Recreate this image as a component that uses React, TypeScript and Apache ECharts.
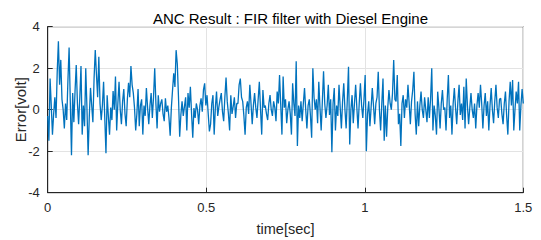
import React, { useEffect, useRef } from "react";
import * as echarts from "echarts";

const title = "ANC Result : FIR filter with Diesel Engine";
const xName = "time[sec]";
const yName = "Error[volt]";
const xTicks = [0, 0.5, 1, 1.5];
const yTicks = [-4, -2, 0, 2, 4];
const sampleStep = 0.00375; // seconds between samples

const seg1 = [
  -0.3, -1.5, 1.5, 0.2, -1.2, -0.2, 0.6, -0.4, 1.8, 3.3,
  1.2, 2.4, 0.5, 0.0, -0.9, 0.3, -0.5, 1.4, 3.0, 0.4,
  -2.2, 0.8, -0.6, 0.9, 2.15, 0.3, -0.7, 0.6, 2.1, -1.2,
  0.2, -0.8, 2.0, 0.1, -2.2, -0.3, 1.05, 0.2, -0.6, 1.5,
  2.88, 1.7, 0.6, 2.55, 0.3, -0.5, 0.2, 1.35, -0.4, -2.1,
  0.7, -0.3, -1.2, 0.1, -0.5, 0.9, 0.0, 1.6, -1.0, 0.3,
  1.35, 0.0, -0.7, 0.4, 1.0, -0.2, -0.8, 0.5, 1.3, 0.6,
  2.1, 1.2, 0.8, 0.1, -1.0, -0.2, 1.0, -0.8, 0.2, 0.5,
];
const seg2 = [
  -1.2, 0.2, -0.3, 1.04, 0.1, -0.7, 0.2, 0.8, -0.4, 0.6,
  2.0, 0.3, -0.9, 0.7, -0.1, 0.3, 0.5, -0.2, -0.55, 0.55,
  -0.1, 0.2, -0.4, -1.25, 0.1, 0.95, 1.75, 1.1, 2.87, 2.2,
  0.6, -1.3, -0.25, 0.4, -0.3, 0.15, 0.6, -1.0, 0.8, 0.1,
  1.1, -0.2, -1.35, 0.08, -0.4, 0.3, 0.0, -0.7, 0.2, 0.55,
  -0.1, 0.95, 1.27, 0.2, 0.7, -0.2, -1.05, -0.7, 0.3, 0.7,
  -1.2, 0.1, 0.87, -0.3, 0.15, 0.5, 0.8, -0.1, -0.55, 0.6,
  1.55, 0.4, -0.2, -1.0, 0.7, -0.2, 0.15, 0.6, -0.4, 0.3,
];
const seg3 = [
  0.3, 1.2, 1.5, 0.6, 0.4, -0.3, -1.2, 0.1, 0.4, -0.2,
  1.2, 0.3, -0.7, 0.2, 0.8, 0.1, -0.4, 0.5, 1.35, 0.0,
  -1.2, 0.95, 0.1, 0.2, -0.2, -0.5, 0.3, 0.7, 0.0, -0.3,
  0.4, 0.1, -0.55, 0.87, 0.3, 1.67, 0.2, -1.2, 1.6, 0.1,
  0.5, -0.65, 0.0, 0.4, -0.2, -1.2, 1.27, 0.3, -0.3, 2.34,
  -1.75, 0.2, -0.4, 0.4, -0.55, 0.3, 1.04, 0.0, -0.9, 0.2,
  0.5, -0.3, -1.35, 2.0, 0.6, 0.0, 0.5, -0.65, 1.35, 0.1,
  -1.0, 0.4, 1.85, 0.3, -0.4, 0.2, 1.2, -0.25, 0.5, -2.05,
];
const seg4 = [
  0.3, 1.04, -1.0, 0.2, -0.3, 1.2, 0.1, -0.9, 0.4, 1.27,
  0.0, -0.9, 0.5, 2.07, -1.68, 0.0, 0.7, -0.65, 0.3, 1.2,
  0.1, -0.9, 0.3, 1.27, 0.2, -0.4, 0.5, 1.67, -2.0, -0.2,
  0.4, -0.8, 0.1, 1.04, 0.2, -0.7, 0.3, 0.6, 1.83, 0.0,
  -1.0, 0.3, 1.5, -1.5, 0.2, -1.3, 0.1, 0.95, 0.3, 0.0,
  0.8, 2.4, 0.5, 0.4, 1.67, -0.7, -0.2, -1.75, 0.3, 0.7,
  -0.4, 0.5, 0.1, 1.2, 0.3, -0.7, 0.4, 0.95, 1.83, -0.2,
  -1.2, 0.4, -0.8, 0.2, 0.87, 0.0, -0.4, 0.6, 0.0, -0.6,
];
const seg5 = [
  0.6, -0.4, 0.5, 2.0, -1.0, 0.2, -0.3, -1.2, 0.87, 0.1,
  -0.9, 0.3, 0.95, 0.0, 0.1, -1.0, 0.5, 1.67, -0.4, 0.2,
  -1.2, 0.3, 1.04, 0.1, -0.7, 0.4, 1.2, -0.25, 0.3, -0.5,
  1.1, -0.9, 1.5, 0.2, -0.7, 0.1, 0.8, 0.0, -0.4, 0.3,
  -0.9, 0.2, 0.8, 0.1, 1.2, 0.3, -0.9, 0.2, 0.8, -0.3,
  0.4, -1.0, 0.2, 1.04, 0.0, -0.65, 0.4, 1.2, 0.1, -0.4,
  0.5, 0.55, -0.2, -0.7, 0.3, 0.87, -0.3, -1.2, 0.4, 1.35,
  0.2, 1.43, -1.0, 0.0, 0.87, 0.3, 1.35, -1.0, 0.2, 1.0,
  0.3,
];

const errorValues = [...seg1, ...seg2, ...seg3, ...seg4, ...seg5];

export default function App() {
  const ref = useRef<HTMLDivElement>(null);
  useEffect(() => {
    if (!ref.current) return;
    const chart = echarts.init(ref.current, null, { renderer: "svg" });
    const data = errorValues.map((v, i) => [i * sampleStep, v]);
    const font = "Liberation Sans, Arial, Helvetica, sans-serif";
    const axisColor = "#262626";
    chart.setOption({
      animation: false,
      backgroundColor: "#ffffff",
      title: {
        text: title,
        left: 285.5,
        textAlign: "center",
        top: 6,
        textStyle: { fontFamily: font, fontSize: 15, fontWeight: "normal", color: "#000" },
      },
      grid: {
        left: 47.7,
        right: 17.7,
        top: 26.7,
        bottom: 47.3,
        containLabel: false,
        outerBoundsMode: "none",
        show: true,
        borderColor: axisColor,
        borderWidth: 1,
        backgroundColor: "#fff",
      },
      xAxis: {
        type: "value",
        min: xTicks[0],
        max: xTicks[xTicks.length - 1],
        interval: 0.5,
        name: xName,
        nameLocation: "middle",
        nameGap: 29,
        nameMoveOverlap: false,
        nameTextStyle: { fontFamily: font, fontSize: 14.5, color: axisColor },
        axisLine: { show: true, onZero: false, lineStyle: { color: axisColor, width: 1 } },
        axisTick: { show: true, inside: true, length: 5, lineStyle: { color: axisColor } },
        axisLabel: { fontFamily: font, fontSize: 13, color: axisColor, margin: 8 },
        splitLine: { show: true, lineStyle: { color: "#e3e3e3", width: 1 } },
      },
      yAxis: {
        type: "value",
        min: yTicks[0],
        max: yTicks[yTicks.length - 1],
        interval: 2,
        name: yName,
        nameLocation: "middle",
        nameGap: 20,
        nameMoveOverlap: false,
        nameTextStyle: { fontFamily: font, fontSize: 15, color: axisColor },
        axisLine: { show: true, lineStyle: { color: axisColor, width: 1 } },
        axisTick: { show: true, inside: true, length: 5, lineStyle: { color: axisColor } },
        axisLabel: { fontFamily: font, fontSize: 13, color: axisColor, margin: 8 },
        splitLine: { show: true, lineStyle: { color: "#e3e3e3", width: 1 } },
      },
      series: [
        {
          type: "line",
          data,
          showSymbol: false,
          symbol: "none",
          lineStyle: { color: "#0072BD", width: 1.3 },
          clip: true,
        },
      ],
    });
    return () => chart.dispose();
  }, []);
  return (
    <div
      ref={ref}
      style={{ position: "fixed", left: 0, top: 0, width: 541, height: 240, background: "#fff" }}
    />
  );
}
